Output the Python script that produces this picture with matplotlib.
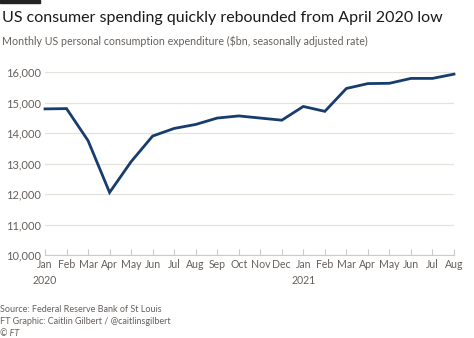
import matplotlib.pyplot as plt
import numpy as np

# monthly PCE, $bn (seasonally adjusted annual rate), Jan 2020 - Aug 2021
months = ["Jan", "Feb", "Mar", "Apr", "May", "Jun", "Jul", "Aug", "Sep", "Oct",
          "Nov", "Dec", "Jan", "Feb", "Mar", "Apr", "May", "Jun", "Jul", "Aug"]
spending = [14790, 14800, 13750, 12050, 13060, 13900, 14150, 14280, 14490, 14560,
            14490, 14420, 14870, 14710, 15460, 15620, 15630, 15790, 15790, 15930]
year_labels = {0: "2020", 12: "2021"}
yticks = [10000, 11000, 12000, 13000, 14000, 15000, 16000]

plt.rcParams['font.family'] = ['Lato', 'DejaVu Sans']

fig = plt.figure(figsize=(4.74, 3.38), dpi=100)
ax = fig.add_axes([45 / 474, 1 - 255 / 338, 409 / 474, 183 / 338])

x = np.arange(len(months))
ax.plot(x, spending, color="#163d6e", lw=2.0, solid_joinstyle="miter", zorder=3, clip_on=False)

ax.set_xlim(0, len(months) - 1)
ax.set_ylim(10000, 16000)
ax.set_yticks(yticks)
ax.set_yticklabels([f"{v:,}" for v in yticks], color="#66605c", fontsize=8)
ax.yaxis.grid(True, color="#e6e3df", lw=0.9)
ax.set_axisbelow(True)

labels = [m + ("\n" + year_labels[i] if i in year_labels else "") for i, m in enumerate(months)]
ax.set_xticks(x)
ax.set_xticklabels(labels, color="#66605c", fontsize=7.6, linespacing=1.5)
ax.tick_params(axis="x", direction="in", length=4, color="#cfcac5", pad=3)
ax.tick_params(axis="y", length=0, pad=3)

for s in ["top", "right", "left"]:
    ax.spines[s].set_visible(False)
ax.spines["bottom"].set_color("#cfcac5")
ax.spines["bottom"].set_linewidth(0.8)

# FT black bar
fig.patches.append(plt.Rectangle((0, 1 - 3 / 338), 40 / 474, 3 / 338,
                                 transform=fig.transFigure, color="#222222"))

fig.text(2 / 474, 1 - 18 / 338, "US consumer spending quickly rebounded from April 2020 low",
         fontsize=11.5, color="#1a1a1a", va="center")
fig.text(2 / 474, 1 - 41 / 338,
         "Monthly US personal consumption expenditure ($bn, seasonally adjusted rate)",
         fontsize=7.7, color="#66605c", va="center")

fig.text(0, 1 - 309 / 338, "Source: Federal Reserve Bank of St Louis", fontsize=6.5, color="#66605c", va="center")
fig.text(0, 1 - 321 / 338, "FT Graphic: Caitlin Gilbert / @caitlinsgilbert", fontsize=6.5, color="#66605c", va="center")
fig.text(0, 1 - 333 / 338, "© FT", fontsize=6.5, color="#66605c", va="center", style="italic")

fig.savefig("out.png", dpi=100, facecolor="white")
